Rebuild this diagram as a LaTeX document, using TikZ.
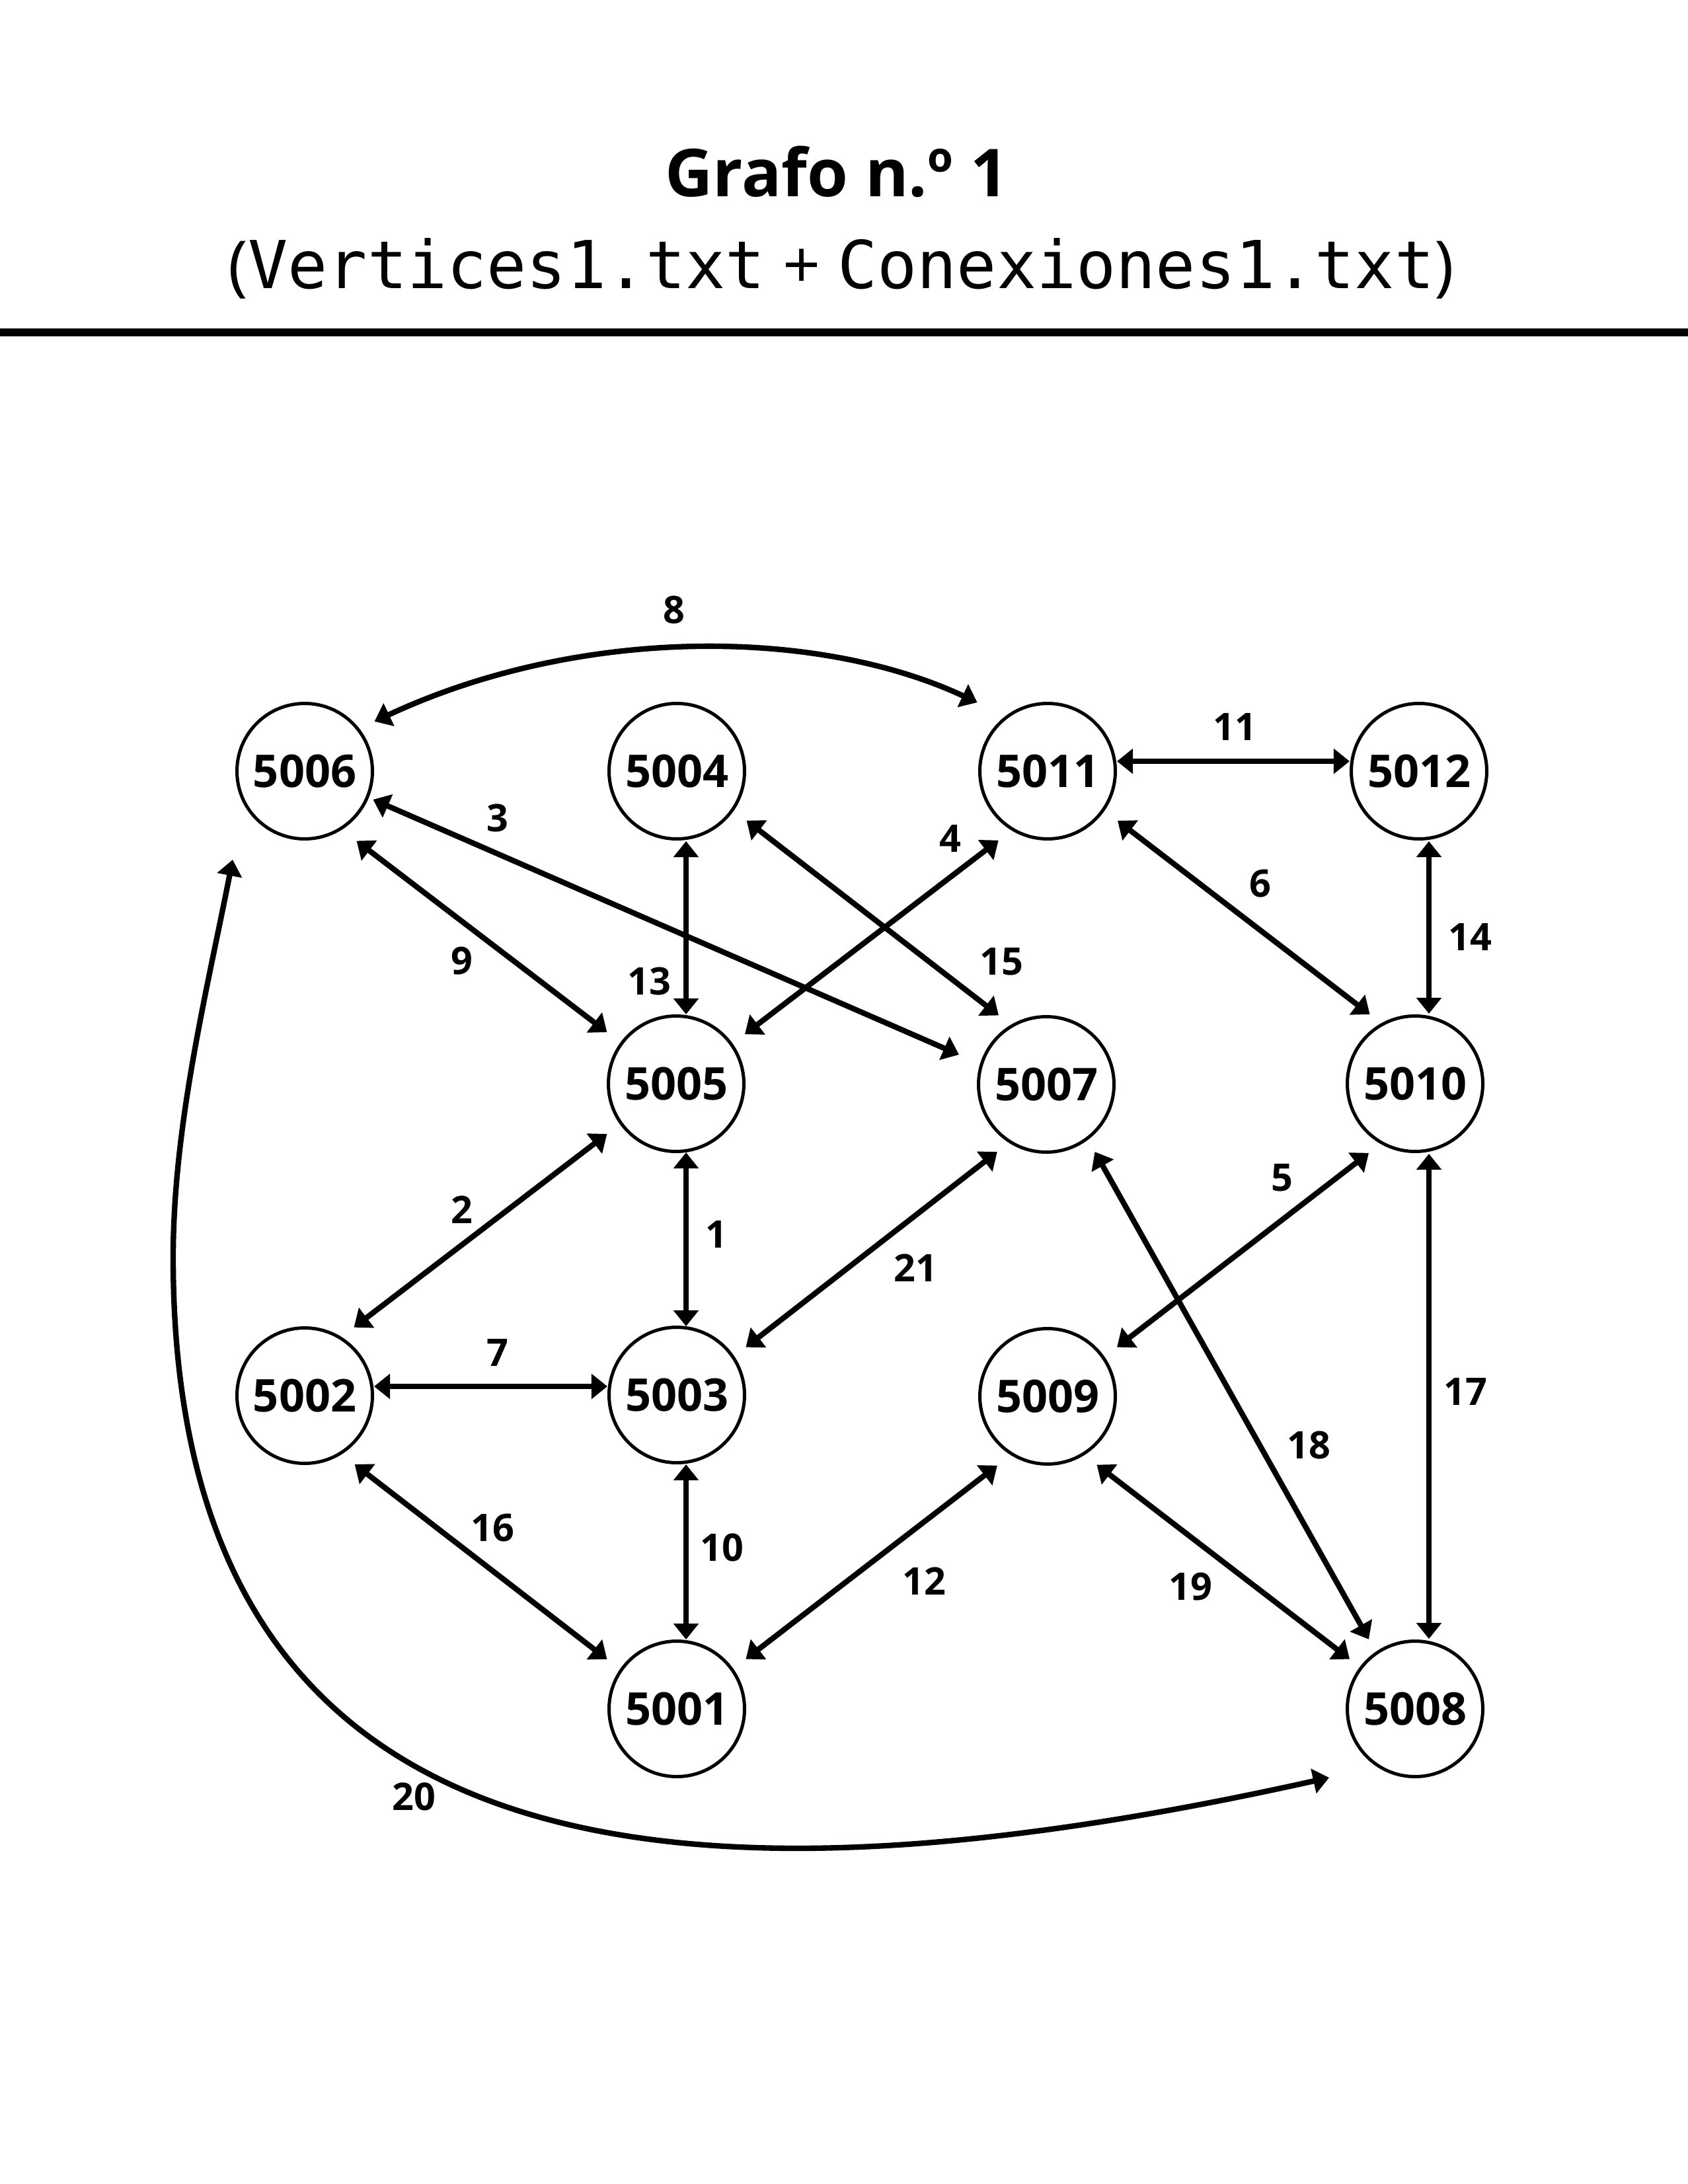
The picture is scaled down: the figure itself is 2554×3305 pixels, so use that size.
\documentclass[tikz,border=0pt]{standalone}
\usepackage{fontspec}
\setmainfont{Open Sans}
\setmonofont{DejaVu Sans Mono}
\usetikzlibrary{calc,arrows.meta}
\begin{document}
\begin{tikzpicture}[x=0.24pt,y=-0.24pt,
  >={Triangle[length=5.8pt,width=8.9pt]},
  vertex/.style={circle,draw,line width=1.2pt,minimum size=49.2pt,inner sep=0pt,outer sep=0pt,
    font=\fontsize{16.4}{18}\selectfont\bfseries},
  edge/.style={<->,line width=2pt},
  elabel/.style={inner sep=0pt,font=\fontsize{13.8}{15}\selectfont\bfseries}]
\fill[white] (0,0) rectangle (2554,3305);
\useasboundingbox (0,0) rectangle (2554,3305);
% title
\node[anchor=base,inner sep=0pt,font=\fontsize{24}{28}\selectfont\bfseries] (title) at (1266,298) {Grafo n.º 1};
\node[anchor=base,inner sep=0pt,font=\fontsize{24}{28}\selectfont] (subtitle) at (1273,437)
  {({\ttfamily Vertices1.txt} + {\ttfamily Conexiones1.txt})};
\draw[line width=3.1pt] (0,503) -- (2554,503);
% vertices
\node[vertex] (n5006) at (461,1167) {5006};
\node[vertex] (n5004) at (1024,1167) {5004};
\node[vertex] (n5011) at (1585,1167) {5011};
\node[vertex] (n5012) at (2147,1167) {5012};
\node[vertex] (n5005) at (1023,1640) {5005};
\node[vertex] (n5007) at (1583,1641) {5007};
\node[vertex] (n5010) at (2141,1640) {5010};
\node[vertex] (n5002) at (461,2112) {5002};
\node[vertex] (n5003) at (1024,2111) {5003};
\node[vertex] (n5009) at (1585,2113) {5009};
\node[vertex] (n5001) at (1024,2586) {5001};
\node[vertex] (n5008) at (2141,2586) {5008};
% straight edges
\draw[edge] ($(n5006)+(78.5,105.5)$) -- ($(n5005)+(-104.6,-78)$);   % 9
\draw[edge] ($(n5005)+(-104.6,76)$) -- ($(n5002)+(74.5,-103.3)$);   % 2
\draw[edge] ($(n5002)+(75.7,104)$) -- ($(n5001)+(-105.6,-75.2)$);   % 16
\draw[edge] ($(n5001)+(104.5,-75.4)$) -- ($(n5009)+(-76.2,104.8)$); % 12
\draw[edge] ($(n5009)+(74.5,103.6)$) -- ($(n5008)+(-99,-75.4)$);    % 19
\draw[edge] ($(n5007)+(73.5,102)$) -- ($(n5008)+(-70,-105.3)$);     % 18
\draw[edge] ($(n5007)+(-74.2,102)$) -- ($(n5003)+(104.5,-72.3)$);   % 21
\draw[edge] ($(n5010)+(-70,104.8)$) -- ($(n5009)+(105,-74.3)$);     % 5
\draw[edge] ($(n5011)+(106,75)$) -- ($(n5010)+(-68.4,-105)$);       % 6
\draw[edge] ($(n5004)+(105.6,74.8)$) -- ($(n5007)+(-72,-104.5)$);   % 15
\draw[edge] ($(n5005)+(104,-75)$) -- ($(n5011)+(-74.3,104.7)$);     % 4
\draw[edge] ($(n5006)+(103.5,43)$) -- ($(n5007)+(-132,-45)$);       % 3
\draw[edge] ($(n5004)+(14,106)$) -- ($(n5005)+(15,-105)$);          % 13
\draw[edge] ($(n5005)+(15,104)$) -- ($(n5003)+(14,-104)$);          % 1
\draw[edge] ($(n5003)+(14,105)$) -- ($(n5001)+(14,-105)$);          % 10
\draw[edge] ($(n5002)+(105,-14)$) -- ($(n5003)+(-105,-13)$);        % 7
\draw[edge] ($(n5011)+(105,-15)$) -- ($(n5012)+(-105,-15)$);        % 11
\draw[edge] ($(n5012)+(15,106)$) -- ($(n5010)+(21,-106)$);          % 14
\draw[edge] ($(n5010)+(21,106)$) -- ($(n5008)+(21,-106)$);          % 17
% curved edges
\draw[edge] ($(n5006)+(105.6,-75.3)$) .. controls (874.6,947.9) and (1234,948.8) .. ($(n5011)+(-106.4,-104)$); % 8
\draw[edge] ($(n5006)+(-109,134)$) .. controls (313.6,1497) and (262,1703) .. (262,1903)
   .. controls (262,2853) and (1035,2907) .. ($(n5008)+(-130,104)$); % 20
% edge labels
\node[elabel] (l8)  at (1020,923)  {8};
\node[elabel] (l11) at (1868,1100) {11};
\node[elabel] (l3)  at (753,1238)  {3};
\node[elabel] (l4)  at (1438,1269) {4};
\node[elabel] (l6)  at (1907,1337) {6};
\node[elabel] (l14) at (2224,1418) {14};
\node[elabel] (l9)  at (699,1454)  {9};
\node[elabel] (l13) at (982,1485)  {13};
\node[elabel] (l15) at (1515,1455) {15};
\node[elabel] (l2)  at (699,1831)  {2};
\node[elabel] (l1)  at (1084,1868) {1};
\node[elabel] (l21) at (1385,1919) {21};
\node[elabel] (l5)  at (1940,1782) {5};
\node[elabel] (l17) at (2217,2106) {17};
\node[elabel] (l18) at (1980,2187) {18};
\node[elabel] (l7)  at (753,2047)  {7};
\node[elabel] (l16) at (745,2312)  {16};
\node[elabel] (l10) at (1092,2342) {10};
\node[elabel] (l12) at (1398,2393) {12};
\node[elabel] (l19) at (1801,2401) {19};
\node[elabel] (l20) at (626,2719)  {20};
\end{tikzpicture}
\end{document}
